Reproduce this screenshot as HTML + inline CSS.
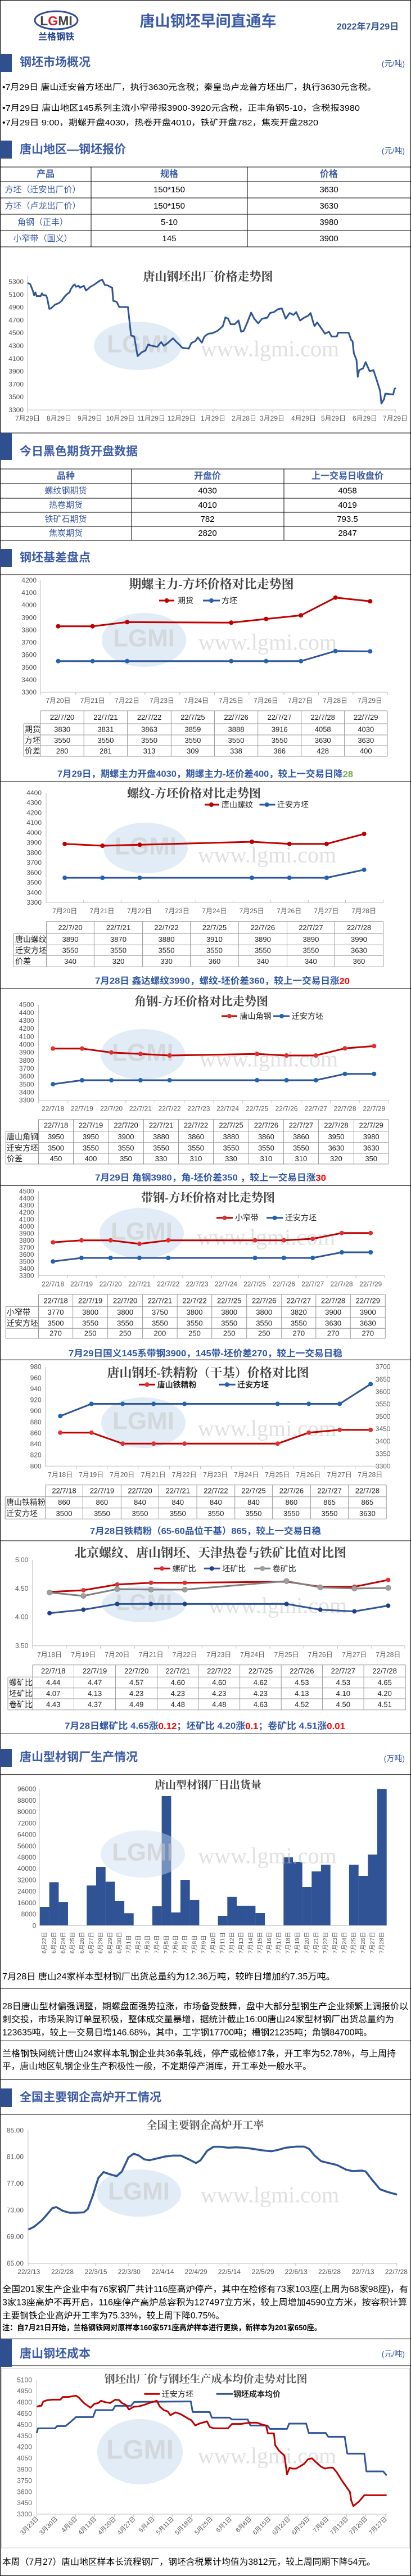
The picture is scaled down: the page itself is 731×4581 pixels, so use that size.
<!DOCTYPE html>
<html><head><meta charset="utf-8">
<style>
body{margin:0;background:#fff}
svg{display:block}
text{font-family:"Liberation Sans","Noto Sans CJK SC",sans-serif}
.sf{font-family:"Liberation Serif","Noto Serif CJK SC",serif;font-weight:bold;fill:#404040}
.hd{font-size:21px;font-weight:bold;fill:#3d5ca5}
.un{font-size:14px;fill:#3d5ca5}
.yl{font-size:12px;fill:#595959;text-anchor:end;dominant-baseline:central}
.xl{font-size:12px;fill:#595959;text-anchor:middle;dominant-baseline:central}
.tc{font-size:13px;fill:#222;text-anchor:middle;dominant-baseline:central}
.tl{font-size:14px;fill:#222;dominant-baseline:central}
.sm{font-size:16px;font-weight:bold;fill:#2f55a4;dominant-baseline:central}
.c{text-anchor:middle;dominant-baseline:central}
.p{font-size:15.5px;fill:#000;dominant-baseline:central}
.wm{font-family:"Liberation Serif",serif;font-size:40px;fill:#c8c8c8;opacity:.55;text-anchor:middle;dominant-baseline:central}
.ax{stroke:#bfbfbf;stroke-width:1;fill:none}
.tb{stroke:#999;stroke-width:1;fill:none}
.bk{stroke:#000;stroke-width:1;fill:none}
</style></head><body>
<svg width="731" height="4581" viewBox="0 0 731 4581" xmlns="http://www.w3.org/2000/svg">
<rect x="0.5" y="0.5" width="730" height="4580" fill="#fff" stroke="#000"/>

<!-- header -->
<ellipse cx="100" cy="36" rx="38" ry="16" fill="none" stroke="#2f4f9a" stroke-width="3"/>
<text x="100" y="37" class="c" style="font-size:23px;font-weight:bold;fill:#444">L<tspan fill="#d0202a">G</tspan>MI</text>
<text x="100" y="66" class="c" style="font-size:16px;font-weight:bold;fill:#1f3f8f">兰格钢铁</text>
<text x="370" y="38" class="c" style="font-size:27px;font-weight:bold;fill:#3b5ba8">唐山钢坯早间直通车</text>
<text x="654" y="48" class="c" style="font-size:16px;font-weight:bold;fill:#2f4f8f">2022年7月29日</text>

<rect x="0" y="96" width="21" height="32" fill="#2f4f8f"/>
<text x="35" y="111" class="hd" dominant-baseline="central">钢坯市场概况</text>
<text x="720" y="113" class="un" text-anchor="end" dominant-baseline="central">(元/吨)</text>
<text x="4" y="156" class="p" style="font-size:14.5px" textLength="665" lengthAdjust="spacingAndGlyphs">•7月29日 唐山迁安普方坯出厂，执行3630元含税；秦皇岛卢龙普方坯出厂，执行3630元含税。</text>
<text x="4" y="193" class="p" style="font-size:14.5px" textLength="636" lengthAdjust="spacingAndGlyphs">•7月29日  唐山地区145系列主流小窄带报3900-3920元含税，正丰角钢5-10，含税报3980</text>
<text x="4" y="219" class="p" style="font-size:14.5px" textLength="562" lengthAdjust="spacingAndGlyphs">•7月29日  9:00，期螺开盘4030，热卷开盘4010，铁矿开盘782，焦炭开盘2820</text>

<rect x="0" y="250" width="21" height="32" fill="#2f4f8f"/>
<text x="35" y="266" class="hd" dominant-baseline="central">唐山地区—钢坯报价</text>
<text x="720" y="268" class="un" text-anchor="end" dominant-baseline="central">(元/吨)</text>

<path class="bk" d="M0 297H731M0 323H731M0 352H731M0 381H731M0 410H731M0 439H731M162 297V439M440 297V439"/>
<g style="font-size:16px;font-weight:bold;fill:#3d5ca5" class="c">
<text x="81" y="310" class="c">产品</text><text x="301" y="310" class="c">规格</text><text x="585" y="310" class="c">价格</text></g>
<g style="font-size:15px;fill:#3d5ca5">
<text x="76" y="337.5" class="c">方坯（迁安出厂价）</text><text x="76" y="366.5" class="c">方坯（卢龙出厂价）</text>
<text x="76" y="395.5" class="c">角钢（正丰）</text><text x="76" y="424.5" class="c">小窄带（国义）</text></g>
<g style="font-size:15px;fill:#000">
<text x="301" y="337.5" class="c">150*150</text><text x="585" y="337.5" class="c">3630</text>
<text x="301" y="366.5" class="c">150*150</text><text x="585" y="366.5" class="c">3630</text>
<text x="301" y="395.5" class="c">5-10</text><text x="585" y="395.5" class="c">3980</text>
<text x="301" y="424.5" class="c">145</text><text x="585" y="424.5" class="c">3900</text></g>

<!-- chart1 -->
<ellipse cx="245" cy="615" rx="78" ry="43" fill="#c9dcef" opacity=".55"/>
<text x="245" y="612" class="wm" style="font-family:'Liberation Sans';font-weight:bold;font-size:44px">LGMI</text>
<text x="480" y="620" class="wm">www.lgmi.com</text>
<text x="370" y="492" class="sf c" style="font-size:21px">唐山钢坯出厂价格走势图</text>
<g>
<text x="42" y="501" class="yl">5300</text><text x="42" y="523.8" class="yl">5100</text><text x="42" y="546.6" class="yl">4900</text><text x="42" y="569.4" class="yl">4700</text><text x="42" y="592.2" class="yl">4500</text><text x="42" y="615" class="yl">4300</text><text x="42" y="637.8" class="yl">4100</text><text x="42" y="660.6" class="yl">3900</text><text x="42" y="683.4" class="yl">3700</text><text x="42" y="706.2" class="yl">3500</text><text x="42" y="729" class="yl">3300</text>
</g>
<path class="ax" d="M49 490V729H704M49 729v5M105 729v5M160 729v5M214 729v5M269 729v5M323 729v5M379 729v5M434 729v5M484 729v5M540 729v5M593 729v5M649 729v5M703 729v5"/>
<g>
<text x="49" y="744" class="xl">7月29日</text><text x="105" y="744" class="xl">8月29日</text><text x="160" y="744" class="xl">9月29日</text><text x="214" y="744" class="xl">10月29日</text><text x="269" y="744" class="xl">11月29日</text><text x="323" y="744" class="xl">12月29日</text><text x="379" y="744" class="xl">1月29日</text><text x="434" y="744" class="xl">2月28日</text><text x="484" y="744" class="xl">3月29日</text><text x="540" y="744" class="xl">4月29日</text><text x="593" y="744" class="xl">5月29日</text><text x="649" y="744" class="xl">6月29日</text><text x="703" y="744" class="xl">7月29日</text>
</g>
<g transform="translate(0,420) scale(0.4662,0.33333)">
<polyline vector-effect="non-scaling-stroke" fill="none" stroke="#2f5597" stroke-width="3" stroke-linejoin="round" points="105,250 115,255 125,290 130,315 135,300 140,320 155,320 160,305 165,315 175,315 180,330 188,388 195,385 210,365 225,357 235,345 245,325 255,310 265,300 270,283 280,262 285,258 290,270 300,265 305,275 320,265 328,290 345,270 360,258 380,238 390,232 400,260 410,262 420,270 428,275 432,345 445,350 455,378 488,378 500,530 512,535 525,640 540,620 555,610 565,578 580,585 600,590 615,565 625,585 640,570 660,545 670,560 685,580 695,595 720,600 730,570 745,560 755,540 770,568 780,535 795,520 810,518 830,505 850,480 860,433 870,440 880,470 895,470 910,450 920,510 930,505 945,455 958,408 970,440 985,465 1000,440 1020,435 1030,410 1045,405 1060,390 1075,385 1090,440 1105,410 1120,420 1130,405 1145,450 1160,435 1175,425 1185,410 1195,460 1200,480 1210,460 1230,500 1240,520 1255,510 1265,535 1285,535 1290,515 1310,515 1330,515 1340,555 1345,560 1350,625 1360,660 1365,750 1370,715 1385,705 1395,672 1410,720 1425,715 1440,780 1450,825 1455,893 1465,870 1470,840 1500,845 1505,815 1510,810"/>
</g>

<!-- futures -->
<line x1="0" y1="770" x2="731" y2="770" stroke="#000"/>
<rect x="0" y="770" width="21" height="48" fill="#2f4f8f"/>
<text x="35" y="803" class="hd" dominant-baseline="central">今日黑色期货开盘数据</text>
<path class="bk" d="M0 834H731M0 860H731M0 886H731M0 911H731M0 936H731M0 961H731M234 834V961M505 834V961"/>
<g style="font-size:16px;font-weight:bold;fill:#3d5ca5">
<text x="117" y="847" class="c">品种</text><text x="369" y="847" class="c">开盘价</text><text x="618" y="847" class="c">上一交易日收盘价</text></g>
<g style="font-size:15px;fill:#3d5ca5">
<text x="117" y="873" class="c">螺纹钢期货</text><text x="117" y="898.5" class="c">热卷期货</text><text x="117" y="923.5" class="c">铁矿石期货</text><text x="117" y="948.5" class="c">焦炭期货</text></g>
<g style="font-size:15px;fill:#000">
<text x="369" y="873" class="c">4030</text><text x="618" y="873" class="c">4058</text>
<text x="369" y="898.5" class="c">4010</text><text x="618" y="898.5" class="c">4019</text>
<text x="369" y="923.5" class="c">782</text><text x="618" y="923.5" class="c">793.5</text>
<text x="369" y="948.5" class="c">2820</text><text x="618" y="948.5" class="c">2847</text></g>

<rect x="0" y="976" width="21" height="32" fill="#2f4f8f"/>
<text x="35" y="992" class="hd" dominant-baseline="central">钢坯基差盘点</text>
<line x1="0" y1="1022" x2="731" y2="1022" stroke="#000"/>

<!-- chart2 -->
<ellipse cx="256" cy="1138" rx="75" ry="48" fill="#c9dcef" opacity=".55"/>
<text x="256" y="1135" class="wm" style="font-family:'Liberation Sans';font-weight:bold;font-size:44px">LGMI</text>
<text x="476" y="1142" class="wm">www.lgmi.com</text>
<text x="376" y="1039" class="sf c" style="font-size:22px">期螺主力-方坯价格对比走势图</text>
<g>
<line x1="283" y1="1068" x2="310" y2="1068" stroke="#c00000" stroke-width="3"/><circle cx="296.5" cy="1068" r="4" fill="#c00000"/><text x="316" y="1068" class="tl">期货</text>
<line x1="361" y1="1068" x2="391" y2="1068" stroke="#2f5597" stroke-width="3"/><circle cx="376" cy="1068" r="4" fill="#1f63b5"/><text x="394" y="1068" class="tl">方坯</text>
</g>
<g>
<text x="65" y="1032" class="yl">4200</text><text x="65" y="1054.1" class="yl">4100</text><text x="65" y="1076.2" class="yl">4000</text><text x="65" y="1098.3" class="yl">3900</text><text x="65" y="1120.4" class="yl">3800</text><text x="65" y="1142.6" class="yl">3700</text><text x="65" y="1164.7" class="yl">3600</text><text x="65" y="1186.8" class="yl">3500</text><text x="65" y="1208.9" class="yl">3400</text><text x="65" y="1231" class="yl">3300</text>
</g>
<path class="ax" d="M72 1032V1231H689M72 1231v5M134.8 1231v5M195.8 1231v5M257.8 1231v5M319.8 1231v5M381.4 1231v5M442.9 1231v5M504.9 1231v5M566.4 1231v5M628 1231v5M689 1231v5"/>
<g>
<text x="103.5" y="1246" class="xl">7月20日</text><text x="164.6" y="1246" class="xl">7月21日</text><text x="226" y="1246" class="xl">7月22日</text><text x="288" y="1246" class="xl">7月23日</text><text x="349" y="1246" class="xl">7月24日</text><text x="411" y="1246" class="xl">7月25日</text><text x="473" y="1246" class="xl">7月26日</text><text x="534" y="1246" class="xl">7月27日</text><text x="596" y="1246" class="xl">7月28日</text><text x="658" y="1246" class="xl">7月29日</text>
</g>
<polyline fill="none" stroke="#c00000" stroke-width="3" points="103.5,1113.7 164.6,1113.7 226.1,1106.3 411.2,1107.3 473.2,1100.7 535.2,1094.3 596.7,1062.7 658.3,1069.3"/>
<polyline fill="none" stroke="#2f5597" stroke-width="3" points="103.5,1175.7 164.6,1175.7 226.1,1175.7 411.2,1175.7 473.2,1175.7 535.2,1175.7 596.7,1157.7 658.3,1158.3"/>
<g fill="#c00000"><circle cx="103.5" cy="1113.7" r="4"/><circle cx="164.6" cy="1113.7" r="4"/><circle cx="226.1" cy="1106.3" r="4"/><circle cx="411.2" cy="1107.3" r="4"/><circle cx="473.2" cy="1100.7" r="4"/><circle cx="535.2" cy="1094.3" r="4"/><circle cx="596.7" cy="1062.7" r="4"/><circle cx="658.3" cy="1069.3" r="4"/></g>
<g fill="#1f63b5"><circle cx="103.5" cy="1175.7" r="4"/><circle cx="164.6" cy="1175.7" r="4"/><circle cx="226.1" cy="1175.7" r="4"/><circle cx="411.2" cy="1175.7" r="4"/><circle cx="473.2" cy="1175.7" r="4"/><circle cx="535.2" cy="1175.7" r="4"/><circle cx="596.7" cy="1157.7" r="4"/><circle cx="658.3" cy="1158.3" r="4"/></g>
<path class="tb" d="M72 1264H689M42 1287H689M42 1307H689M42 1326H689M42 1345H689M42 1287V1345M72 1264V1345M149.2 1264V1345M226.6 1264V1345M304.4 1264V1345M381.4 1264V1345M458.7 1264V1345M535.7 1264V1345M612.6 1264V1345M689 1264V1345"/>
<g>
<text x="110.6" y="1275.5" class="tc">22/7/20</text><text x="187.9" y="1275.5" class="tc">22/7/21</text><text x="265.5" y="1275.5" class="tc">22/7/22</text><text x="342.9" y="1275.5" class="tc">22/7/25</text><text x="420" y="1275.5" class="tc">22/7/26</text><text x="497.2" y="1275.5" class="tc">22/7/27</text><text x="574.2" y="1275.5" class="tc">22/7/28</text><text x="650.8" y="1275.5" class="tc">22/7/29</text>
<text x="44" y="1297" class="tl">期货</text><text x="110.6" y="1297" class="tc">3830</text><text x="187.9" y="1297" class="tc">3831</text><text x="265.5" y="1297" class="tc">3863</text><text x="342.9" y="1297" class="tc">3859</text><text x="420" y="1297" class="tc">3888</text><text x="497.2" y="1297" class="tc">3916</text><text x="574.2" y="1297" class="tc">4058</text><text x="650.8" y="1297" class="tc">4030</text>
<text x="44" y="1316.5" class="tl">方坯</text><text x="110.6" y="1316.5" class="tc">3550</text><text x="187.9" y="1316.5" class="tc">3550</text><text x="265.5" y="1316.5" class="tc">3550</text><text x="342.9" y="1316.5" class="tc">3550</text><text x="420" y="1316.5" class="tc">3550</text><text x="497.2" y="1316.5" class="tc">3550</text><text x="574.2" y="1316.5" class="tc">3630</text><text x="650.8" y="1316.5" class="tc">3630</text>
<text x="44" y="1335.5" class="tl">价差</text><text x="110.6" y="1335.5" class="tc">280</text><text x="187.9" y="1335.5" class="tc">281</text><text x="265.5" y="1335.5" class="tc">313</text><text x="342.9" y="1335.5" class="tc">309</text><text x="420" y="1335.5" class="tc">338</text><text x="497.2" y="1335.5" class="tc">366</text><text x="574.2" y="1335.5" class="tc">428</text><text x="650.8" y="1335.5" class="tc">400</text>
</g>
<text x="102" y="1377" class="sm" textLength="526" lengthAdjust="spacingAndGlyphs">7月29日，期螺主力开盘4030，期螺主力-坯价差400，较上一交易日降<tspan fill="#70ad47">28</tspan></text>
<line x1="0" y1="1390" x2="731" y2="1390" stroke="#000"/>

<!-- chart3 -->
<ellipse cx="259" cy="1508" rx="75" ry="45" fill="#c9dcef" opacity=".55"/>
<text x="259" y="1505" class="wm" style="font-family:'Liberation Sans';font-weight:bold;font-size:44px">LGMI</text>
<text x="475" y="1520" class="wm">www.lgmi.com</text>
<text x="345" y="1411" class="sf c" style="font-size:21px">螺纹-方坯价格对比走势图</text>
<g>
<line x1="364" y1="1431" x2="390" y2="1431" stroke="#c00000" stroke-width="3"/><circle cx="376" cy="1431" r="4" fill="#c00000"/><text x="394" y="1431" class="tl">唐山螺纹</text>
<line x1="461.5" y1="1431" x2="489.5" y2="1431" stroke="#2f5597" stroke-width="3"/><circle cx="474.6" cy="1431" r="4" fill="#1f63b5"/><text x="493" y="1431" class="tl">迁安方坯</text>
</g>
<g>
<text x="74" y="1410" class="yl">4400</text><text x="74" y="1427.7" class="yl">4300</text><text x="74" y="1445.5" class="yl">4200</text><text x="74" y="1463.2" class="yl">4100</text><text x="74" y="1480.9" class="yl">4000</text><text x="74" y="1498.7" class="yl">3900</text><text x="74" y="1516.4" class="yl">3800</text><text x="74" y="1534.1" class="yl">3700</text><text x="74" y="1551.8" class="yl">3600</text><text x="74" y="1569.6" class="yl">3500</text><text x="74" y="1587.3" class="yl">3400</text><text x="74" y="1605" class="yl">3300</text>
</g>
<path class="ax" d="M82 1410V1605H681.6M148.3 1605v-5M215.4 1605v-5M281.5 1605v-5M348.2 1605v-5M414.5 1605v-5M481.1 1605v-5M548.3 1605v-5M614.5 1605v-5M681.6 1605v-5"/>
<g>
<text x="115.2" y="1620" class="xl">7月20日</text><text x="181.4" y="1620" class="xl">7月21日</text><text x="248" y="1620" class="xl">7月22日</text><text x="314.7" y="1620" class="xl">7月23日</text><text x="381.4" y="1620" class="xl">7月24日</text><text x="447.6" y="1620" class="xl">7月25日</text><text x="514.2" y="1620" class="xl">7月26日</text><text x="580.4" y="1620" class="xl">7月27日</text><text x="647.1" y="1620" class="xl">7月28日</text>
</g>
<polyline fill="none" stroke="#c00000" stroke-width="3" points="115.2,1500.7 182.3,1504 248.5,1502.3 448,1497 514.7,1500.7 580.9,1500.7 647.6,1483"/>
<polyline fill="none" stroke="#2f5597" stroke-width="3" points="115.2,1561 182.3,1561 248.5,1561 448,1561 514.7,1561 580.9,1561 647.6,1546.7"/>
<g fill="#c00000"><circle cx="115.2" cy="1500.7" r="4"/><circle cx="182.3" cy="1504" r="4"/><circle cx="248.5" cy="1502.3" r="4"/><circle cx="448" cy="1497" r="4"/><circle cx="514.7" cy="1500.7" r="4"/><circle cx="580.9" cy="1500.7" r="4"/><circle cx="647.6" cy="1483" r="4"/></g>
<g fill="#1f63b5"><circle cx="115.2" cy="1561" r="4"/><circle cx="182.3" cy="1561" r="4"/><circle cx="248.5" cy="1561" r="4"/><circle cx="448" cy="1561" r="4"/><circle cx="514.7" cy="1561" r="4"/><circle cx="580.9" cy="1561" r="4"/><circle cx="647.6" cy="1546.7" r="4"/></g>
<path class="tb" d="M82.5 1638.7H681.6M24.2 1660.3H681.6M24.2 1680.3H681.6M24.2 1699.3H681.6M24.2 1719.3H681.6M24.2 1660.3V1719.3M82.5 1638.7V1719.3M167.4 1638.7V1719.3M253.6 1638.7V1719.3M338.5 1638.7V1719.3M424.2 1638.7V1719.3M510.5 1638.7V1719.3M595.3 1638.7V1719.3M681.6 1638.7V1719.3"/>
<g>
<text x="125" y="1649.5" class="tc">22/7/20</text><text x="210.5" y="1649.5" class="tc">22/7/21</text><text x="296" y="1649.5" class="tc">22/7/22</text><text x="381.4" y="1649.5" class="tc">22/7/25</text><text x="467.4" y="1649.5" class="tc">22/7/26</text><text x="552.9" y="1649.5" class="tc">22/7/27</text><text x="638.5" y="1649.5" class="tc">22/7/28</text>
<text x="27" y="1670.3" class="tl">唐山螺纹</text><text x="125" y="1670.3" class="tc">3890</text><text x="210.5" y="1670.3" class="tc">3870</text><text x="296" y="1670.3" class="tc">3880</text><text x="381.4" y="1670.3" class="tc">3910</text><text x="467.4" y="1670.3" class="tc">3890</text><text x="552.9" y="1670.3" class="tc">3890</text><text x="638.5" y="1670.3" class="tc">3990</text>
<text x="27" y="1689.8" class="tl">迁安方坯</text><text x="125" y="1689.8" class="tc">3550</text><text x="210.5" y="1689.8" class="tc">3550</text><text x="296" y="1689.8" class="tc">3550</text><text x="381.4" y="1689.8" class="tc">3550</text><text x="467.4" y="1689.8" class="tc">3550</text><text x="552.9" y="1689.8" class="tc">3550</text><text x="638.5" y="1689.8" class="tc">3630</text>
<text x="27" y="1709.3" class="tl">价差</text><text x="125" y="1709.3" class="tc">340</text><text x="210.5" y="1709.3" class="tc">320</text><text x="296" y="1709.3" class="tc">330</text><text x="381.4" y="1709.3" class="tc">360</text><text x="467.4" y="1709.3" class="tc">340</text><text x="552.9" y="1709.3" class="tc">340</text><text x="638.5" y="1709.3" class="tc">360</text>
</g>
<text x="169" y="1745" class="sm" textLength="453" lengthAdjust="spacingAndGlyphs">7月28日 鑫达螺纹3990，螺纹-坯价差360，较上一交易日涨<tspan fill="#ff0000">20</tspan></text>
<line x1="0" y1="1758" x2="731" y2="1758" stroke="#000"/>

<!-- chart4 -->
<ellipse cx="254" cy="1875" rx="75" ry="45" fill="#c9dcef" opacity=".55"/>
<text x="254" y="1872" class="wm" style="font-family:'Liberation Sans';font-weight:bold;font-size:44px">LGMI</text>
<text x="478" y="1883" class="wm">www.lgmi.com</text>
<text x="358" y="1781" class="sf c" style="font-size:21px">角钢-方坯价格对比走势图</text>
<g>
<line x1="394" y1="1807" x2="422" y2="1807" stroke="#c00000" stroke-width="3"/><circle cx="408" cy="1807" r="4" fill="#e03030"/><text x="426.6" y="1807" class="tl">唐山角钢</text>
<line x1="486" y1="1807" x2="515" y2="1807" stroke="#2f5597" stroke-width="3"/><circle cx="501" cy="1807" r="4" fill="#1f63b5"/><text x="519" y="1807" class="tl">迁安方坯</text>
</g>
<g>
<text x="60.6" y="1786.7" class="yl">4500</text><text x="60.6" y="1800.9" class="yl">4400</text><text x="60.6" y="1815" class="yl">4300</text><text x="60.6" y="1829.2" class="yl">4200</text><text x="60.6" y="1843.4" class="yl">4100</text><text x="60.6" y="1857.5" class="yl">4000</text><text x="60.6" y="1871.7" class="yl">3900</text><text x="60.6" y="1885.9" class="yl">3800</text><text x="60.6" y="1900" class="yl">3700</text><text x="60.6" y="1914.2" class="yl">3600</text><text x="60.6" y="1928.4" class="yl">3500</text><text x="60.6" y="1942.5" class="yl">3400</text><text x="60.6" y="1956.7" class="yl">3300</text>
</g>
<path class="ax" d="M68.5 1786.7V1956.7H691M68.5 1956.7v5M120.7 1956.7v5M172.5 1956.7v5M223.8 1956.7v5M275.5 1956.7v5M327.7 1956.7v5M380 1956.7v5M431.7 1956.7v5M483.4 1956.7v5M535.7 1956.7v5M587.4 1956.7v5M639.2 1956.7v5M691 1956.7v5"/>
<g>
<text x="94.2" y="1971.7" class="xl">22/7/18</text><text x="145.9" y="1971.7" class="xl">22/7/19</text><text x="198.1" y="1971.7" class="xl">22/7/20</text><text x="249.9" y="1971.7" class="xl">22/7/21</text><text x="301.6" y="1971.7" class="xl">22/7/22</text><text x="353.4" y="1971.7" class="xl">22/7/23</text><text x="405.1" y="1971.7" class="xl">22/7/24</text><text x="457.3" y="1971.7" class="xl">22/7/25</text><text x="509.6" y="1971.7" class="xl">22/7/26</text><text x="561.8" y="1971.7" class="xl">22/7/27</text><text x="613.5" y="1971.7" class="xl">22/7/28</text><text x="665.3" y="1971.7" class="xl">22/7/29</text>
</g>
<polyline fill="none" stroke="#c00000" stroke-width="3" points="94.2,1864.7 145.9,1864.7 198.1,1871.7 249.9,1874.3 301.6,1877 457.3,1874.3 509.6,1877 561.8,1877 613.5,1864.3 665.3,1860.3"/>
<polyline fill="none" stroke="#2f5597" stroke-width="3" points="94.2,1928 145.9,1921 198.1,1921 249.9,1921 301.6,1921 457.3,1921 509.6,1921 561.8,1921 613.5,1909.7 665.3,1909.7"/>
<g fill="#e03030"><circle cx="94.2" cy="1864.7" r="4"/><circle cx="145.9" cy="1864.7" r="4"/><circle cx="198.1" cy="1871.7" r="4"/><circle cx="249.9" cy="1874.3" r="4"/><circle cx="301.6" cy="1877" r="4"/><circle cx="457.3" cy="1874.3" r="4"/><circle cx="509.6" cy="1877" r="4"/><circle cx="561.8" cy="1877" r="4"/><circle cx="613.5" cy="1864.3" r="4"/><circle cx="665.3" cy="1860.3" r="4"/></g>
<g fill="#1f63b5"><circle cx="94.2" cy="1928" r="4"/><circle cx="145.9" cy="1921" r="4"/><circle cx="198.1" cy="1921" r="4"/><circle cx="249.9" cy="1921" r="4"/><circle cx="301.6" cy="1921" r="4"/><circle cx="457.3" cy="1921" r="4"/><circle cx="509.6" cy="1921" r="4"/><circle cx="561.8" cy="1921" r="4"/><circle cx="613.5" cy="1909.7" r="4"/><circle cx="665.3" cy="1909.7" r="4"/></g>
<path class="tb" d="M68.5 1990.7H691M10.3 2011.7H691M10.3 2031.7H691M10.3 2051H691M10.3 2070H691M10.3 2011.7V2070M68.5 1990.7V2070M130.5 1990.7V2070M192.5 1990.7V2070M255.5 1990.7V2070M317.5 1990.7V2070M379.5 1990.7V2070M442.4 1990.7V2070M504.4 1990.7V2070M566.4 1990.7V2070M629.4 1990.7V2070M691 1990.7V2070"/>
<g>
<text x="99.5" y="2001.2" class="tc">22/7/18</text><text x="161.5" y="2001.2" class="tc">22/7/19</text><text x="224" y="2001.2" class="tc">22/7/20</text><text x="286.5" y="2001.2" class="tc">22/7/21</text><text x="348.5" y="2001.2" class="tc">22/7/22</text><text x="411" y="2001.2" class="tc">22/7/25</text><text x="473.4" y="2001.2" class="tc">22/7/26</text><text x="535.4" y="2001.2" class="tc">22/7/27</text><text x="597.9" y="2001.2" class="tc">22/7/28</text><text x="660.2" y="2001.2" class="tc">22/7/29</text>
<text x="12" y="2021.7" class="tl">唐山角钢</text><text x="99.5" y="2021.7" class="tc">3950</text><text x="161.5" y="2021.7" class="tc">3950</text><text x="224" y="2021.7" class="tc">3900</text><text x="286.5" y="2021.7" class="tc">3880</text><text x="348.5" y="2021.7" class="tc">3860</text><text x="411" y="2021.7" class="tc">3880</text><text x="473.4" y="2021.7" class="tc">3860</text><text x="535.4" y="2021.7" class="tc">3860</text><text x="597.9" y="2021.7" class="tc">3950</text><text x="660.2" y="2021.7" class="tc">3980</text>
<text x="12" y="2041.4" class="tl">迁安方坯</text><text x="99.5" y="2041.4" class="tc">3500</text><text x="161.5" y="2041.4" class="tc">3550</text><text x="224" y="2041.4" class="tc">3550</text><text x="286.5" y="2041.4" class="tc">3550</text><text x="348.5" y="2041.4" class="tc">3550</text><text x="411" y="2041.4" class="tc">3550</text><text x="473.4" y="2041.4" class="tc">3550</text><text x="535.4" y="2041.4" class="tc">3550</text><text x="597.9" y="2041.4" class="tc">3630</text><text x="660.2" y="2041.4" class="tc">3630</text>
<text x="12" y="2060.5" class="tl">价差</text><text x="99.5" y="2060.5" class="tc">450</text><text x="161.5" y="2060.5" class="tc">400</text><text x="224" y="2060.5" class="tc">350</text><text x="286.5" y="2060.5" class="tc">330</text><text x="348.5" y="2060.5" class="tc">310</text><text x="411" y="2060.5" class="tc">330</text><text x="473.4" y="2060.5" class="tc">310</text><text x="535.4" y="2060.5" class="tc">310</text><text x="597.9" y="2060.5" class="tc">320</text><text x="660.2" y="2060.5" class="tc">350</text>
</g>
<text x="169" y="2095" class="sm" textLength="411" lengthAdjust="spacingAndGlyphs">7月29日 角钢3980，角-坯价差350 ，较上一交易日涨<tspan fill="#ff0000">30</tspan></text>
<line x1="0" y1="2108.3" x2="731" y2="2108.3" stroke="#000"/>

<!-- chart5 -->
<ellipse cx="252" cy="2193" rx="75" ry="45" fill="#c9dcef" opacity=".55"/>
<text x="252" y="2190" class="wm" style="font-family:'Liberation Sans';font-weight:bold;font-size:44px">LGMI</text>
<text x="473" y="2200" class="wm">www.lgmi.com</text>
<text x="370" y="2130" class="sf c" style="font-size:21px">带钢-方坯价格对比走势图</text>
<g>
<line x1="385" y1="2165.7" x2="414" y2="2165.7" stroke="#c00000" stroke-width="3"/><circle cx="399.5" cy="2165.7" r="4" fill="#e03030"/><text x="418" y="2165.7" class="tl">小窄带</text>
<line x1="474" y1="2165.7" x2="503.5" y2="2165.7" stroke="#2f5597" stroke-width="3"/><circle cx="488.6" cy="2165.7" r="4" fill="#1f63b5"/><text x="507" y="2165.7" class="tl">迁安方坯</text>
</g>
<g>
<text x="60.6" y="2118.3" class="yl">4500</text><text x="60.6" y="2130.8" class="yl">4400</text><text x="60.6" y="2143.3" class="yl">4300</text><text x="60.6" y="2155.8" class="yl">4200</text><text x="60.6" y="2168.3" class="yl">4100</text><text x="60.6" y="2180.8" class="yl">4000</text><text x="60.6" y="2193.3" class="yl">3900</text><text x="60.6" y="2205.8" class="yl">3800</text><text x="60.6" y="2218.3" class="yl">3700</text><text x="60.6" y="2230.8" class="yl">3600</text><text x="60.6" y="2243.3" class="yl">3500</text><text x="60.6" y="2255.8" class="yl">3400</text><text x="60.6" y="2268.3" class="yl">3300</text>
</g>
<path class="ax" d="M68.5 2118.3V2268.3H684.4M68.5 2268.3v5M119.8 2268.3v5M171.1 2268.3v5M222.4 2268.3v5M273.7 2268.3v5M324.9 2268.3v5M376.2 2268.3v5M428 2268.3v5M479.3 2268.3v5M530.5 2268.3v5M581.8 2268.3v5M633 2268.3v5M684.4 2268.3v5"/>
<g>
<text x="94.2" y="2283.3" class="xl">22/7/18</text><text x="145" y="2283.3" class="xl">22/7/19</text><text x="196.7" y="2283.3" class="xl">22/7/20</text><text x="248" y="2283.3" class="xl">22/7/21</text><text x="299.3" y="2283.3" class="xl">22/7/22</text><text x="350.6" y="2283.3" class="xl">22/7/23</text><text x="401.9" y="2283.3" class="xl">22/7/24</text><text x="453.1" y="2283.3" class="xl">22/7/25</text><text x="504.9" y="2283.3" class="xl">22/7/26</text><text x="556.2" y="2283.3" class="xl">22/7/27</text><text x="607.5" y="2283.3" class="xl">22/7/28</text><text x="659.2" y="2283.3" class="xl">22/7/29</text>
</g>
<polyline fill="none" stroke="#c00000" stroke-width="3" points="94.2,2209.3 145,2205.7 196.7,2205.7 248,2212 299.3,2205.7 453.6,2205.7 504.9,2205.7 556.2,2203 607.9,2192.7 659.2,2192.7"/>
<polyline fill="none" stroke="#2f5597" stroke-width="3" points="94.2,2243.3 145,2237 196.7,2237 248,2237 299.3,2237 453.6,2237 504.9,2237 556.2,2237 607.9,2227 659.2,2227"/>
<g fill="#e03030"><circle cx="94.2" cy="2209.3" r="4"/><circle cx="145" cy="2205.7" r="4"/><circle cx="196.7" cy="2205.7" r="4"/><circle cx="248" cy="2212" r="4"/><circle cx="299.3" cy="2205.7" r="4"/><circle cx="453.6" cy="2205.7" r="4"/><circle cx="504.9" cy="2205.7" r="4"/><circle cx="556.2" cy="2203" r="4"/><circle cx="607.9" cy="2192.7" r="4"/><circle cx="659.2" cy="2192.7" r="4"/></g>
<g fill="#1f63b5"><circle cx="94.2" cy="2243.3" r="4"/><circle cx="145" cy="2237" r="4"/><circle cx="196.7" cy="2237" r="4"/><circle cx="248" cy="2237" r="4"/><circle cx="299.3" cy="2237" r="4"/><circle cx="453.6" cy="2237" r="4"/><circle cx="504.9" cy="2237" r="4"/><circle cx="556.2" cy="2237" r="4"/><circle cx="607.9" cy="2227" r="4"/><circle cx="659.2" cy="2227" r="4"/></g>
<path class="tb" d="M68.5 2302.3H685.3M10.3 2323.3H685.3M10.3 2343.3H685.3M10.3 2362.3H685.3M10.3 2380H685.3M10.3 2323.3V2380M68.5 2302.3V2380M129.6 2302.3V2380M191.6 2302.3V2380M253.6 2302.3V2380M315.2 2302.3V2380M376.7 2302.3V2380M438.7 2302.3V2380M500.7 2302.3V2380M561.8 2302.3V2380M623.3 2302.3V2380M685.3 2302.3V2380"/>
<g>
<text x="99" y="2312.8" class="tc">22/7/18</text><text x="160.6" y="2312.8" class="tc">22/7/19</text><text x="222.6" y="2312.8" class="tc">22/7/20</text><text x="284.4" y="2312.8" class="tc">22/7/21</text><text x="346" y="2312.8" class="tc">22/7/22</text><text x="407.7" y="2312.8" class="tc">22/7/25</text><text x="469.7" y="2312.8" class="tc">22/7/26</text><text x="531.3" y="2312.8" class="tc">22/7/27</text><text x="592.6" y="2312.8" class="tc">22/7/28</text><text x="654.3" y="2312.8" class="tc">22/7/29</text>
<text x="12" y="2333.3" class="tl">小窄带</text><text x="99" y="2333.3" class="tc">3770</text><text x="160.6" y="2333.3" class="tc">3800</text><text x="222.6" y="2333.3" class="tc">3800</text><text x="284.4" y="2333.3" class="tc">3750</text><text x="346" y="2333.3" class="tc">3800</text><text x="407.7" y="2333.3" class="tc">3800</text><text x="469.7" y="2333.3" class="tc">3800</text><text x="531.3" y="2333.3" class="tc">3820</text><text x="592.6" y="2333.3" class="tc">3900</text><text x="654.3" y="2333.3" class="tc">3900</text>
<text x="12" y="2352.8" class="tl">迁安方坯</text><text x="99" y="2352.8" class="tc">3500</text><text x="160.6" y="2352.8" class="tc">3550</text><text x="222.6" y="2352.8" class="tc">3550</text><text x="284.4" y="2352.8" class="tc">3550</text><text x="346" y="2352.8" class="tc">3550</text><text x="407.7" y="2352.8" class="tc">3550</text><text x="469.7" y="2352.8" class="tc">3550</text><text x="531.3" y="2352.8" class="tc">3550</text><text x="592.6" y="2352.8" class="tc">3630</text><text x="654.3" y="2352.8" class="tc">3630</text>
<text x="99" y="2371.2" class="tc">270</text><text x="160.6" y="2371.2" class="tc">250</text><text x="222.6" y="2371.2" class="tc">250</text><text x="284.4" y="2371.2" class="tc">200</text><text x="346" y="2371.2" class="tc">250</text><text x="407.7" y="2371.2" class="tc">250</text><text x="469.7" y="2371.2" class="tc">250</text><text x="531.3" y="2371.2" class="tc">270</text><text x="592.6" y="2371.2" class="tc">270</text><text x="654.3" y="2371.2" class="tc">270</text>
</g>
<text x="122" y="2407.3" class="sm" textLength="487" lengthAdjust="spacingAndGlyphs">7月29日国义145系带钢3900，145带-坯价差270，较上一交易日稳</text>
<line x1="0" y1="2418.3" x2="731" y2="2418.3" stroke="#000"/>

<!-- chart6 -->
<ellipse cx="255" cy="2530" rx="75" ry="45" fill="#c9dcef" opacity=".55"/>
<text x="255" y="2527" class="wm" style="font-family:'Liberation Sans';font-weight:bold;font-size:44px">LGMI</text>
<text x="475" y="2540" class="wm">www.lgmi.com</text>
<text x="370" y="2441.7" class="sf c" style="font-size:22px">唐山钢坯-铁精粉（干基）价格对比图</text>
<g>
<line x1="247" y1="2462.3" x2="276" y2="2462.3" stroke="#c00000" stroke-width="3"/><circle cx="261.5" cy="2462.3" r="4" fill="#e03030"/><text x="279.7" y="2462.3" class="tl" font-weight="bold">唐山铁精粉</text>
<line x1="389" y1="2462.3" x2="418.6" y2="2462.3" stroke="#2f5597" stroke-width="3"/><circle cx="403.7" cy="2462.3" r="4" fill="#1f63b5"/><text x="422" y="2462.3" class="tl" font-weight="bold">迁安方坯</text>
</g>
<g>
<text x="73.7" y="2430.7" class="yl">980</text><text x="73.7" y="2450.3" class="yl">960</text><text x="73.7" y="2469.9" class="yl">940</text><text x="73.7" y="2489.6" class="yl">920</text><text x="73.7" y="2509.2" class="yl">900</text><text x="73.7" y="2528.8" class="yl">880</text><text x="73.7" y="2548.4" class="yl">860</text><text x="73.7" y="2568.1" class="yl">840</text><text x="73.7" y="2587.7" class="yl">820</text><text x="73.7" y="2607.3" class="yl">800</text>
<text x="694.6" y="2430.7" class="yl" text-anchor="start">3700</text><text x="694.6" y="2452.8" class="yl" text-anchor="start">3650</text><text x="694.6" y="2474.9" class="yl" text-anchor="start">3600</text><text x="694.6" y="2497" class="yl" text-anchor="start">3550</text><text x="694.6" y="2519" class="yl" text-anchor="start">3500</text><text x="694.6" y="2541.1" class="yl" text-anchor="start">3450</text><text x="694.6" y="2563.2" class="yl" text-anchor="start">3400</text><text x="694.6" y="2585.3" class="yl" text-anchor="start">3350</text><text x="694.6" y="2607.3" class="yl" text-anchor="start">3300</text>
</g>
<path class="ax" d="M80.7 2430.7V2607.3H688.6V2430.7M135.7 2607.3v5M190.7 2607.3v5M245.7 2607.3v5M301.6 2607.3v5M356.6 2607.3v5M411.7 2607.3v5M466.7 2607.3v5M521.7 2607.3v5M576.7 2607.3v5M631.7 2607.3v5"/>
<g>
<text x="107.2" y="2622.3" class="xl">7月18日</text><text x="162.2" y="2622.3" class="xl">7月19日</text><text x="217.2" y="2622.3" class="xl">7月20日</text><text x="272.7" y="2622.3" class="xl">7月21日</text><text x="327.7" y="2622.3" class="xl">7月22日</text><text x="383.2" y="2622.3" class="xl">7月23日</text><text x="438.2" y="2622.3" class="xl">7月24日</text><text x="493.2" y="2622.3" class="xl">7月25日</text><text x="548.3" y="2622.3" class="xl">7月26日</text><text x="603.7" y="2622.3" class="xl">7月27日</text><text x="658.3" y="2622.3" class="xl">7月28日</text>
</g>
<polyline fill="none" stroke="#c00000" stroke-width="3" points="107.2,2547.7 162.7,2547.7 218.2,2567.3 273.2,2567.3 328.2,2567.3 493.7,2567.3 549.2,2547.7 604.2,2542.7 659.2,2542.7"/>
<polyline fill="none" stroke="#2f5597" stroke-width="3" points="107.2,2518.3 162.7,2496.5 218.2,2496.5 273.2,2496.5 328.2,2496.5 493.7,2496.5 549.2,2496.5 604.2,2496.5 659.2,2461.3"/>
<g fill="#e03030"><circle cx="107.2" cy="2547.7" r="4"/><circle cx="162.7" cy="2547.7" r="4"/><circle cx="218.2" cy="2567.3" r="4"/><circle cx="273.2" cy="2567.3" r="4"/><circle cx="328.2" cy="2567.3" r="4"/><circle cx="493.7" cy="2567.3" r="4"/><circle cx="549.2" cy="2547.7" r="4"/><circle cx="604.2" cy="2542.7" r="4"/><circle cx="659.2" cy="2542.7" r="4"/></g>
<g fill="#1f63b5"><circle cx="107.2" cy="2518.3" r="4"/><circle cx="162.7" cy="2496.5" r="4"/><circle cx="218.2" cy="2496.5" r="4"/><circle cx="273.2" cy="2496.5" r="4"/><circle cx="328.2" cy="2496.5" r="4"/><circle cx="493.7" cy="2496.5" r="4"/><circle cx="549.2" cy="2496.5" r="4"/><circle cx="604.2" cy="2496.5" r="4"/><circle cx="659.2" cy="2461.3" r="4"/></g>
<path class="tb" d="M80.7 2640.7H687.2M9.3 2661.7H687.2M9.3 2681.7H687.2M9.3 2701.3H687.2M9.3 2661.7V2701.3M80.7 2640.7V2701.3M147.3 2640.7V2701.3M215.4 2640.7V2701.3M282.5 2640.7V2701.3M350.1 2640.7V2701.3M417.7 2640.7V2701.3M484.4 2640.7V2701.3M552.4 2640.7V2701.3M619.6 2640.7V2701.3M687.2 2640.7V2701.3"/>
<g>
<text x="114" y="2651.2" class="tc">22/7/18</text><text x="181.4" y="2651.2" class="tc">22/7/19</text><text x="249" y="2651.2" class="tc">22/7/20</text><text x="316.3" y="2651.2" class="tc">22/7/21</text><text x="383.9" y="2651.2" class="tc">22/7/22</text><text x="451" y="2651.2" class="tc">22/7/25</text><text x="518.4" y="2651.2" class="tc">22/7/26</text><text x="586" y="2651.2" class="tc">22/7/27</text><text x="653.4" y="2651.2" class="tc">22/7/28</text>
<text x="11" y="2671.7" class="tl">唐山铁精粉</text><text x="114" y="2671.7" class="tc">860</text><text x="181.4" y="2671.7" class="tc">860</text><text x="249" y="2671.7" class="tc">840</text><text x="316.3" y="2671.7" class="tc">840</text><text x="383.9" y="2671.7" class="tc">840</text><text x="451" y="2671.7" class="tc">840</text><text x="518.4" y="2671.7" class="tc">860</text><text x="586" y="2671.7" class="tc">865</text><text x="653.4" y="2671.7" class="tc">865</text>
<text x="11" y="2691.5" class="tl">迁安方坯</text><text x="114" y="2691.5" class="tc">3500</text><text x="181.4" y="2691.5" class="tc">3550</text><text x="249" y="2691.5" class="tc">3550</text><text x="316.3" y="2691.5" class="tc">3550</text><text x="383.9" y="2691.5" class="tc">3550</text><text x="451" y="2691.5" class="tc">3550</text><text x="518.4" y="2691.5" class="tc">3550</text><text x="586" y="2691.5" class="tc">3550</text><text x="653.4" y="2691.5" class="tc">3630</text>
</g>
<text x="160" y="2723.3" class="sm" textLength="411" lengthAdjust="spacingAndGlyphs">7月28日铁精粉（65-60品位干基）865，较上一交易日稳</text>
<line x1="0" y1="2740" x2="731" y2="2740" stroke="#000"/>

<!-- chart7 -->
<ellipse cx="256" cy="2853" rx="75" ry="32" fill="#c9dcef" opacity=".55"/>
<text x="256" y="2850" class="wm" style="font-family:'Liberation Sans';font-weight:bold;font-size:40px">LGMI</text>
<text x="494" y="2855" class="wm">www.lgmi.com</text>
<text x="374" y="2761.7" class="sf c" style="font-size:22px">北京螺纹、唐山钢坯、天津热卷与铁矿比值对比图</text>
<g>
<line x1="273.7" y1="2789.3" x2="303" y2="2789.3" stroke="#c00000" stroke-width="3"/><circle cx="288" cy="2789.3" r="4" fill="#e03030"/><text x="306.8" y="2789.3" class="tl">螺矿比</text>
<line x1="362.7" y1="2789.3" x2="391.6" y2="2789.3" stroke="#2f5597" stroke-width="3"/><circle cx="376.7" cy="2789.3" r="4" fill="#1f3f8f"/><text x="395.3" y="2789.3" class="tl">坯矿比</text>
<line x1="452" y1="2789.3" x2="481" y2="2789.3" stroke="#808080" stroke-width="3"/><circle cx="466.7" cy="2789.3" r="4.5" fill="#a0a0a0"/><text x="484.8" y="2789.3" class="tl">卷矿比</text>
</g>
<g>
<text x="50.3" y="2774" class="yl">5.00</text><text x="50.3" y="2825" class="yl">4.50</text><text x="50.3" y="2875.7" class="yl">4.00</text><text x="50.3" y="2926.7" class="yl">3.50</text>
</g>
<path class="ax" d="M57.8 2774V2926.7H720M57.8 2926.7v5M118 2926.7v5M178.6 2926.7v5M239.2 2926.7v5M299.3 2926.7v5M359.4 2926.7v5M419.6 2926.7v5M480.2 2926.7v5M540.3 2926.7v5M600.4 2926.7v5M661 2926.7v5M720 2926.7v5"/>
<g>
<text x="88.1" y="2942.7" class="xl">7月18日</text><text x="148.3" y="2942.7" class="xl">7月19日</text><text x="208.4" y="2942.7" class="xl">7月20日</text><text x="268.5" y="2942.7" class="xl">7月21日</text><text x="328.7" y="2942.7" class="xl">7月22日</text><text x="389.3" y="2942.7" class="xl">7月23日</text><text x="449" y="2942.7" class="xl">7月24日</text><text x="509.6" y="2942.7" class="xl">7月25日</text><text x="569.7" y="2942.7" class="xl">7月26日</text><text x="630.3" y="2942.7" class="xl">7月27日</text><text x="690.4" y="2942.7" class="xl">7月28日</text>
</g>
<polyline fill="none" stroke="#c00000" stroke-width="3" points="88.1,2831 148.3,2828 208.4,2817.8 268.5,2814.7 328.7,2814.7 509.6,2812.7 569.7,2821.8 630.3,2821.8 690.4,2809.6"/>
<polyline fill="none" stroke="#808080" stroke-width="3" points="88.1,2832 148.3,2838.1 208.4,2825.9 268.5,2826.9 328.7,2826.9 509.6,2811.7 569.7,2822.9 630.3,2824.9 690.4,2823.9"/>
<polyline fill="none" stroke="#2f5597" stroke-width="3" points="88.1,2868.7 148.3,2862.6 208.4,2852.4 268.5,2852.4 328.7,2852.4 509.6,2852.4 569.7,2862.6 630.3,2865.6 690.4,2855.4"/>
<g fill="#e03030"><circle cx="88.1" cy="2831" r="4"/><circle cx="148.3" cy="2828" r="4"/><circle cx="208.4" cy="2817.8" r="4"/><circle cx="268.5" cy="2814.7" r="4"/><circle cx="328.7" cy="2814.7" r="4"/><circle cx="509.6" cy="2812.7" r="4"/><circle cx="569.7" cy="2821.8" r="4"/><circle cx="630.3" cy="2821.8" r="4"/><circle cx="690.4" cy="2809.6" r="4"/></g>
<g fill="#a0a0a0" stroke="#888"><circle cx="88.1" cy="2832" r="4.5"/><circle cx="148.3" cy="2838.1" r="4.5"/><circle cx="208.4" cy="2825.9" r="4.5"/><circle cx="268.5" cy="2826.9" r="4.5"/><circle cx="328.7" cy="2826.9" r="4.5"/><circle cx="509.6" cy="2811.7" r="4.5"/><circle cx="569.7" cy="2822.9" r="4.5"/><circle cx="630.3" cy="2824.9" r="4.5"/><circle cx="690.4" cy="2823.9" r="4.5"/></g>
<g fill="#1f3f8f"><circle cx="88.1" cy="2868.7" r="4"/><circle cx="148.3" cy="2862.6" r="4"/><circle cx="208.4" cy="2852.4" r="4"/><circle cx="268.5" cy="2852.4" r="4"/><circle cx="328.7" cy="2852.4" r="4"/><circle cx="509.6" cy="2852.4" r="4"/><circle cx="569.7" cy="2862.6" r="4"/><circle cx="630.3" cy="2865.6" r="4"/><circle cx="690.4" cy="2855.4" r="4"/></g>
<path class="tb" d="M57.8 2960.7H721.2M14 2982.3H721.2M14 3001.7H721.2M14 3021H721.2M14 3040.7H721.2M14 2982.3V3040.7M57.8 2960.7V3040.7M131.5 2960.7V3040.7M205.6 2960.7V3040.7M279.7 2960.7V3040.7M352.9 2960.7V3040.7M426.6 2960.7V3040.7M500.2 2960.7V3040.7M573.4 2960.7V3040.7M647.1 2960.7V3040.7M721.2 2960.7V3040.7"/>
<g>
<text x="94.7" y="2971.5" class="tc">22/7/18</text><text x="168.6" y="2971.5" class="tc">22/7/19</text><text x="242.7" y="2971.5" class="tc">22/7/20</text><text x="316.3" y="2971.5" class="tc">22/7/21</text><text x="389.8" y="2971.5" class="tc">22/7/22</text><text x="463.4" y="2971.5" class="tc">22/7/25</text><text x="536.8" y="2971.5" class="tc">22/7/26</text><text x="610.3" y="2971.5" class="tc">22/7/27</text><text x="684.2" y="2971.5" class="tc">22/7/28</text>
<text x="16" y="2992" class="tl">螺矿比</text><text x="94.7" y="2992" class="tc">4.44</text><text x="168.6" y="2992" class="tc">4.47</text><text x="242.7" y="2992" class="tc">4.57</text><text x="316.3" y="2992" class="tc">4.60</text><text x="389.8" y="2992" class="tc">4.60</text><text x="463.4" y="2992" class="tc">4.62</text><text x="536.8" y="2992" class="tc">4.53</text><text x="610.3" y="2992" class="tc">4.53</text><text x="684.2" y="2992" class="tc">4.65</text>
<text x="16" y="3011.4" class="tl">坯矿比</text><text x="94.7" y="3011.4" class="tc">4.07</text><text x="168.6" y="3011.4" class="tc">4.13</text><text x="242.7" y="3011.4" class="tc">4.23</text><text x="316.3" y="3011.4" class="tc">4.23</text><text x="389.8" y="3011.4" class="tc">4.23</text><text x="463.4" y="3011.4" class="tc">4.23</text><text x="536.8" y="3011.4" class="tc">4.13</text><text x="610.3" y="3011.4" class="tc">4.10</text><text x="684.2" y="3011.4" class="tc">4.20</text>
<text x="16" y="3030.9" class="tl">卷矿比</text><text x="94.7" y="3030.9" class="tc">4.43</text><text x="168.6" y="3030.9" class="tc">4.37</text><text x="242.7" y="3030.9" class="tc">4.49</text><text x="316.3" y="3030.9" class="tc">4.48</text><text x="389.8" y="3030.9" class="tc">4.48</text><text x="463.4" y="3030.9" class="tc">4.63</text><text x="536.8" y="3030.9" class="tc">4.52</text><text x="610.3" y="3030.9" class="tc">4.50</text><text x="684.2" y="3030.9" class="tc">4.51</text>
</g>
<text x="115" y="3070" class="sm" textLength="499" lengthAdjust="spacingAndGlyphs">7月28日螺矿比 4.65涨<tspan fill="#ff0000">0.12</tspan>；坯矿比 4.20涨<tspan fill="#ff0000">0.1</tspan>；卷矿比 4.51涨<tspan fill="#ff0000">0.01</tspan></text>
<line x1="0" y1="3083.3" x2="731" y2="3083.3" stroke="#000"/>

<rect x="0" y="3110" width="21" height="32" fill="#2f4f8f"/>
<text x="35" y="3125" class="hd" dominant-baseline="central">唐山型材钢厂生产情况</text>
<text x="720" y="3127" class="un" text-anchor="end" dominant-baseline="central">(万吨)</text>
<line x1="0" y1="3155.7" x2="731" y2="3155.7" stroke="#000"/>

<!-- chart8 bars -->
<text x="370" y="3175" class="sf c" style="font-size:19px">唐山型材钢厂日出货量</text>
<g>
<text x="64.3" y="3181.7" class="yl">96000</text><text x="64.3" y="3201.9" class="yl">88000</text><text x="64.3" y="3222.1" class="yl">80000</text><text x="64.3" y="3242.4" class="yl">72000</text><text x="64.3" y="3262.6" class="yl">64000</text><text x="64.3" y="3282.8" class="yl">56000</text><text x="64.3" y="3303" class="yl">48000</text><text x="64.3" y="3323.2" class="yl">40000</text><text x="64.3" y="3343.4" class="yl">32000</text><text x="64.3" y="3363.7" class="yl">24000</text><text x="64.3" y="3383.9" class="yl">16000</text><text x="64.3" y="3404.1" class="yl">8000</text><text x="64.3" y="3424.3" class="yl">0</text>
</g>
<g fill="#2f5395">
<rect x="70.9" y="3391" width="16.8" height="33.3"/><rect x="87.6" y="3347.3" width="16.8" height="77"/><rect x="104.2" y="3382.3" width="16.8" height="42"/>
<rect x="154.2" y="3353" width="16.8" height="71.3"/><rect x="170.9" y="3320" width="16.8" height="104.3"/><rect x="187.6" y="3346.3" width="16.8" height="78"/><rect x="204.3" y="3381" width="16.8" height="43.3"/><rect x="220.9" y="3402.3" width="16.8" height="22"/>
<rect x="270.9" y="3390" width="16.8" height="34.3"/><rect x="287.6" y="3194" width="16.8" height="230.3"/><rect x="304.3" y="3401" width="16.8" height="23.3"/><rect x="320.9" y="3343" width="16.8" height="81.3"/><rect x="337.6" y="3379" width="16.8" height="45.3"/>
<rect x="387.6" y="3407" width="16.8" height="17.3"/><rect x="404.3" y="3373" width="16.8" height="51.3"/><rect x="420.9" y="3389" width="16.8" height="35.3"/><rect x="437.6" y="3389" width="16.8" height="35.3"/><rect x="454.3" y="3402" width="16.8" height="22.3"/>
<rect x="504.3" y="3303" width="16.8" height="121.3"/><rect x="520.9" y="3311" width="16.8" height="113.3"/><rect x="537.6" y="3356" width="16.8" height="68.3"/><rect x="554.3" y="3328" width="16.8" height="96.3"/><rect x="570.9" y="3316" width="16.8" height="108.3"/>
<rect x="620.9" y="3316" width="16.8" height="108.3"/><rect x="637.6" y="3336" width="16.8" height="88.3"/><rect x="654.3" y="3298" width="16.8" height="126.3"/><rect x="670.9" y="3181.3" width="16.8" height="243"/>
</g>
<ellipse cx="254" cy="3297" rx="75" ry="42" fill="#c9dcef" opacity=".45"/>
<text x="254" y="3294" class="wm" style="font-family:'Liberation Sans';font-weight:bold;font-size:44px">LGMI</text>
<text x="475.5" y="3300" class="wm">www.lgmi.com</text>
<path class="ax" d="M70 3181.7V3424.3H687.6"/>
<g style="font-size:10.5px;fill:#595959">
<text transform="translate(79.2,3474) rotate(-90)" dominant-baseline="central">6月22日</text><text transform="translate(95.9,3474) rotate(-90)" dominant-baseline="central">6月23日</text><text transform="translate(112.6,3474) rotate(-90)" dominant-baseline="central">6月24日</text><text transform="translate(129.2,3474) rotate(-90)" dominant-baseline="central">6月25日</text><text transform="translate(145.9,3474) rotate(-90)" dominant-baseline="central">6月26日</text><text transform="translate(162.6,3474) rotate(-90)" dominant-baseline="central">6月27日</text><text transform="translate(179.2,3474) rotate(-90)" dominant-baseline="central">6月28日</text><text transform="translate(195.9,3474) rotate(-90)" dominant-baseline="central">6月29日</text><text transform="translate(212.6,3474) rotate(-90)" dominant-baseline="central">6月30日</text>
<text transform="translate(229.2,3474) rotate(-90)" dominant-baseline="central">7月1日</text><text transform="translate(245.9,3474) rotate(-90)" dominant-baseline="central">7月2日</text><text transform="translate(262.6,3474) rotate(-90)" dominant-baseline="central">7月3日</text><text transform="translate(279.2,3474) rotate(-90)" dominant-baseline="central">7月4日</text><text transform="translate(295.9,3474) rotate(-90)" dominant-baseline="central">7月5日</text><text transform="translate(312.6,3474) rotate(-90)" dominant-baseline="central">7月6日</text><text transform="translate(329.2,3474) rotate(-90)" dominant-baseline="central">7月7日</text><text transform="translate(345.9,3474) rotate(-90)" dominant-baseline="central">7月8日</text><text transform="translate(362.6,3474) rotate(-90)" dominant-baseline="central">7月9日</text>
<text transform="translate(379.2,3474) rotate(-90)" dominant-baseline="central">7月10日</text><text transform="translate(395.9,3474) rotate(-90)" dominant-baseline="central">7月11日</text><text transform="translate(412.6,3474) rotate(-90)" dominant-baseline="central">7月12日</text><text transform="translate(429.2,3474) rotate(-90)" dominant-baseline="central">7月13日</text><text transform="translate(445.9,3474) rotate(-90)" dominant-baseline="central">7月14日</text><text transform="translate(462.6,3474) rotate(-90)" dominant-baseline="central">7月15日</text><text transform="translate(479.2,3474) rotate(-90)" dominant-baseline="central">7月16日</text><text transform="translate(495.9,3474) rotate(-90)" dominant-baseline="central">7月17日</text><text transform="translate(512.6,3474) rotate(-90)" dominant-baseline="central">7月18日</text>
<text transform="translate(529.2,3474) rotate(-90)" dominant-baseline="central">7月19日</text><text transform="translate(545.9,3474) rotate(-90)" dominant-baseline="central">7月20日</text><text transform="translate(562.6,3474) rotate(-90)" dominant-baseline="central">7月21日</text><text transform="translate(579.2,3474) rotate(-90)" dominant-baseline="central">7月22日</text><text transform="translate(595.9,3474) rotate(-90)" dominant-baseline="central">7月23日</text><text transform="translate(612.6,3474) rotate(-90)" dominant-baseline="central">7月24日</text><text transform="translate(629.2,3474) rotate(-90)" dominant-baseline="central">7月25日</text><text transform="translate(645.9,3474) rotate(-90)" dominant-baseline="central">7月26日</text><text transform="translate(662.6,3474) rotate(-90)" dominant-baseline="central">7月27日</text><text transform="translate(679.2,3474) rotate(-90)" dominant-baseline="central">7月28日</text>
</g>
<text x="4" y="3515.7" class="p" textLength="592" lengthAdjust="spacingAndGlyphs">7月28日    唐山24家样本型材钢厂出货总量约为12.36万吨，较昨日增加约7.35万吨。</text>
<line x1="0" y1="3536" x2="731" y2="3536" stroke="#000"/>
<text x="4" y="3568.3" class="p" textLength="722" lengthAdjust="spacingAndGlyphs">28日唐山型材偏强调整，期螺盘面强势拉涨，市场备受鼓舞，盘中大部分型钢生产企业频繁上调报价以</text>
<text x="4" y="3591.7" class="p" textLength="697" lengthAdjust="spacingAndGlyphs">刺交投，市场采购订单显积极，整体成交量暴增，据统计截止16:00唐山24家型材钢厂出货总量约为</text>
<text x="4" y="3615" class="p" textLength="658" lengthAdjust="spacingAndGlyphs">123635吨，较上一交易日增146.68%，其中，工字钢17700吨；槽钢21235吨；角钢84700吨。</text>
<line x1="0" y1="3629.3" x2="731" y2="3629.3" stroke="#000"/>
<text x="4" y="3652.7" class="p" textLength="700" lengthAdjust="spacingAndGlyphs">兰格钢铁网统计唐山24家样本轧钢企业共36条轧线，停产或检修17条，开工率为52.78%，与上周持</text>
<text x="4" y="3675" class="p" textLength="550" lengthAdjust="spacingAndGlyphs">平，唐山地区轧钢企业生产积极性一般，不定期停产消库，开工率处一般水平。</text>
<line x1="0" y1="3698.3" x2="731" y2="3698.3" stroke="#000"/>

<rect x="0" y="3714" width="21" height="33" fill="#2f4f8f"/>
<text x="35" y="3730" class="hd" dominant-baseline="central">全国主要钢企高炉开工情况</text>
<line x1="0" y1="3760" x2="731" y2="3760" stroke="#000"/>

<!-- chart9 -->
<ellipse cx="247" cy="3900" rx="75" ry="42" fill="#c9dcef" opacity=".55"/>
<text x="247" y="3897" class="wm" style="font-family:'Liberation Sans';font-weight:bold;font-size:44px">LGMI</text>
<text x="480" y="3903" class="wm">www.lgmi.com</text>
<text x="365" y="3780" class="sf c" style="font-size:19px;fill:#595959">全国主要钢企高炉开工率</text>
<g>
<text x="42" y="3788.3" class="yl">85.00</text><text x="42" y="3835.7" class="yl">81.00</text><text x="42" y="3883" class="yl">77.00</text><text x="42" y="3930.3" class="yl">73.00</text><text x="42" y="3977.7" class="yl">69.00</text><text x="42" y="4025" class="yl">65.00</text>
</g>
<path class="ax" d="M49.9 3788.3V4025H706.3M50.3 4025v5M110 4025v5M169.7 4025v5M228.9 4025v5M288.6 4025v5M347.8 4025v5M407 4025v5M466.7 4025v5M525.9 4025v5M585.1 4025v5M644.8 4025v5M704.9 4025v5"/>
<g>
<text x="51.3" y="4040" class="xl">22/2/13</text><text x="111" y="4040" class="xl">22/2/28</text><text x="170.6" y="4040" class="xl">22/3/15</text><text x="229.8" y="4040" class="xl">22/3/30</text><text x="289.5" y="4040" class="xl">22/4/14</text><text x="348.7" y="4040" class="xl">22/4/29</text><text x="407.9" y="4040" class="xl">22/5/14</text><text x="467.6" y="4040" class="xl">22/5/29</text><text x="526.8" y="4040" class="xl">22/6/13</text><text x="586" y="4040" class="xl">22/6/28</text><text x="645.7" y="4040" class="xl">22/7/13</text><text x="704.9" y="4040" class="xl">22/7/28</text>
</g>
<g transform="translate(0,3540) scale(0.4662,0.33333)">
<polyline vector-effect="non-scaling-stroke" fill="none" stroke="#2f5597" stroke-width="3.5" stroke-linejoin="round" points="108,1275 130,1260 160,1225 185,1185 200,1160 215,1155 240,1175 265,1185 290,1185 320,1183 335,1165 355,1090 375,1000 395,968 420,980 445,990 465,965 490,890 510,870 530,880 550,900 570,905 600,895 630,885 660,880 690,880 720,900 748,920 765,905 790,855 815,833 840,833 870,838 900,836 930,838 960,843 1000,852 1035,857 1060,850 1090,838 1130,832 1160,832 1180,845 1200,880 1225,910 1260,922 1285,930 1320,955 1345,963 1380,960 1395,965 1420,1010 1450,1060 1480,1075 1515,1088"/>
</g>

<text x="4" y="4071.7" class="p" textLength="722" lengthAdjust="spacingAndGlyphs">全国201家生产企业中有76家钢厂共计116座高炉停产，其中在检修有73家103座(上周为68家98座)，有</text>
<text x="4" y="4095" class="p" textLength="720" lengthAdjust="spacingAndGlyphs">3家13座高炉不再开启，116座停产高炉总容积为127497立方米，较上周增加4590立方米，按容积计算</text>
<text x="4" y="4118.3" class="p" textLength="395" lengthAdjust="spacingAndGlyphs">主要钢铁企业高炉开工率为75.33%，较上周下降0.75%。</text>
<text x="4" y="4139.3" class="p" style="font-size:13.5px;font-weight:bold" textLength="568" lengthAdjust="spacingAndGlyphs">注：自7月21日开始，兰格钢铁网对原样本160家571座高炉样本进行更换，新样本为201家650座。</text>
<line x1="0" y1="4159.3" x2="731" y2="4159.3" stroke="#000"/>
<rect x="0" y="4159" width="21" height="50" fill="#2f4f8f"/>
<text x="35" y="4186" class="hd" dominant-baseline="central">唐山钢坯成本</text>
<text x="720" y="4186" class="un" text-anchor="end" dominant-baseline="central">(元/吨)</text>
<line x1="21" y1="4207" x2="731" y2="4207" stroke="#000"/>

<!-- chart10 -->
<rect x="2.5" y="4211.7" width="726" height="319.3" fill="none" stroke="#d0d0d0"/>
<ellipse cx="249" cy="4360" rx="76" ry="58" fill="#c9dcef" opacity=".55"/>
<text x="249" y="4357" class="wm" style="font-family:'Liberation Sans';font-weight:bold;font-size:48px">LGMI</text>
<text x="475" y="4367" class="wm">www.lgmi.com</text>
<text x="366" y="4231.7" class="sf c" style="font-size:19px;fill:#595959">钢坯出厂价与钢坯生产成本均价走势对比图</text>
<g>
<line x1="256.4" y1="4257.3" x2="284.4" y2="4257.3" stroke="#c00000" stroke-width="3"/><text x="288" y="4257.3" class="tl">迁安方坯</text>
<line x1="384.6" y1="4257.3" x2="414" y2="4257.3" stroke="#2f5597" stroke-width="3"/><text x="415" y="4257.3" class="tl" font-weight="bold">钢坯成本均价</text>
</g>
<g>
<text x="56.9" y="4232.3" class="yl">5100</text><text x="56.9" y="4252.2" class="yl">4950</text><text x="56.9" y="4272.1" class="yl">4800</text><text x="56.9" y="4292" class="yl">4650</text><text x="56.9" y="4311.9" class="yl">4500</text><text x="56.9" y="4331.8" class="yl">4350</text><text x="56.9" y="4351.7" class="yl">4200</text><text x="56.9" y="4371.6" class="yl">4050</text><text x="56.9" y="4391.5" class="yl">3900</text><text x="56.9" y="4411.4" class="yl">3750</text><text x="56.9" y="4431.3" class="yl">3600</text><text x="56.9" y="4451.2" class="yl">3450</text><text x="56.9" y="4471" class="yl">3300</text>
</g>
<path class="ax" d="M65.3 4232.3V4471H688.6M65.3 4471v5M99.3 4471v5M134.3 4471v5M168.3 4471v5M203.3 4471v5M237.8 4471v5M271.8 4471v5M306.3 4471v5M340.3 4471v5M375.3 4471v5M409.3 4471v5M444.3 4471v5M478.8 4471v5M513.3 4471v5M547.8 4471v5M581.8 4471v5M616.3 4471v5M650.3 4471v5M685.3 4471v5"/>
<g style="font-size:11px;fill:#595959" text-anchor="end">
<text transform="translate(69,4480) rotate(-45)">3月23日</text><text transform="translate(103,4480) rotate(-45)">3月30日</text><text transform="translate(138,4480) rotate(-45)">4月6日</text><text transform="translate(172,4480) rotate(-45)">4月13日</text><text transform="translate(207,4480) rotate(-45)">4月20日</text><text transform="translate(241.5,4480) rotate(-45)">4月27日</text><text transform="translate(275.5,4480) rotate(-45)">5月4日</text><text transform="translate(310,4480) rotate(-45)">5月11日</text><text transform="translate(344,4480) rotate(-45)">5月18日</text><text transform="translate(379,4480) rotate(-45)">5月25日</text><text transform="translate(413,4480) rotate(-45)">6月1日</text><text transform="translate(448,4480) rotate(-45)">6月8日</text><text transform="translate(482.5,4480) rotate(-45)">6月15日</text><text transform="translate(517,4480) rotate(-45)">6月22日</text><text transform="translate(551.5,4480) rotate(-45)">6月29日</text><text transform="translate(585.5,4480) rotate(-45)">7月6日</text><text transform="translate(620,4480) rotate(-45)">7月13日</text><text transform="translate(654,4480) rotate(-45)">7月20日</text><text transform="translate(689,4480) rotate(-45)">7月27日</text>
</g>
<g transform="translate(0,4060) scale(0.4662,0.33333)">
<polyline vector-effect="non-scaling-stroke" fill="none" stroke="#2f5597" stroke-width="3" stroke-linejoin="round" points="140,800 145,775 210,775 218,763 250,763 270,740 290,715 355,715 365,678 430,678 440,655 500,655 512,634 720,632 728,632 735,688 800,688 808,718 875,718 885,728 945,728 955,760 1020,760 1030,778 1095,778 1103,750 1168,750 1178,800 1243,800 1252,820 1315,820 1325,910 1390,910 1398,1005 1462,1005 1475,1027"/>
<polyline vector-effect="non-scaling-stroke" fill="none" stroke="#c00000" stroke-width="3" stroke-linejoin="round" points="140,660 150,655 158,655 165,632 180,625 200,622 230,622 240,608 260,608 290,601 300,610 320,640 345,665 360,645 375,640 385,628 400,635 420,640 440,622 455,625 465,640 480,650 492,675 510,660 530,658 550,650 570,640 598,628 610,660 625,678 640,685 650,705 670,690 690,700 720,725 730,732 745,760 760,750 790,738 800,768 815,775 870,775 885,752 920,752 950,745 980,745 1000,755 1015,760 1022,802 1045,802 1050,865 1065,895 1085,920 1095,1020 1105,985 1115,990 1130,990 1160,965 1175,940 1190,935 1205,955 1225,980 1240,990 1255,985 1270,985 1285,1010 1305,1055 1320,1085 1335,1115 1340,1160 1348,1190 1370,1165 1390,1132 1475,1132"/>
</g>
<text x="4" y="4556.7" class="p" textLength="664" lengthAdjust="spacingAndGlyphs">本周（7月27）唐山地区样本长流程钢厂，钢坯含税累计均值为3812元，较上周同期下降54元。</text>
</svg>
</body></html>
